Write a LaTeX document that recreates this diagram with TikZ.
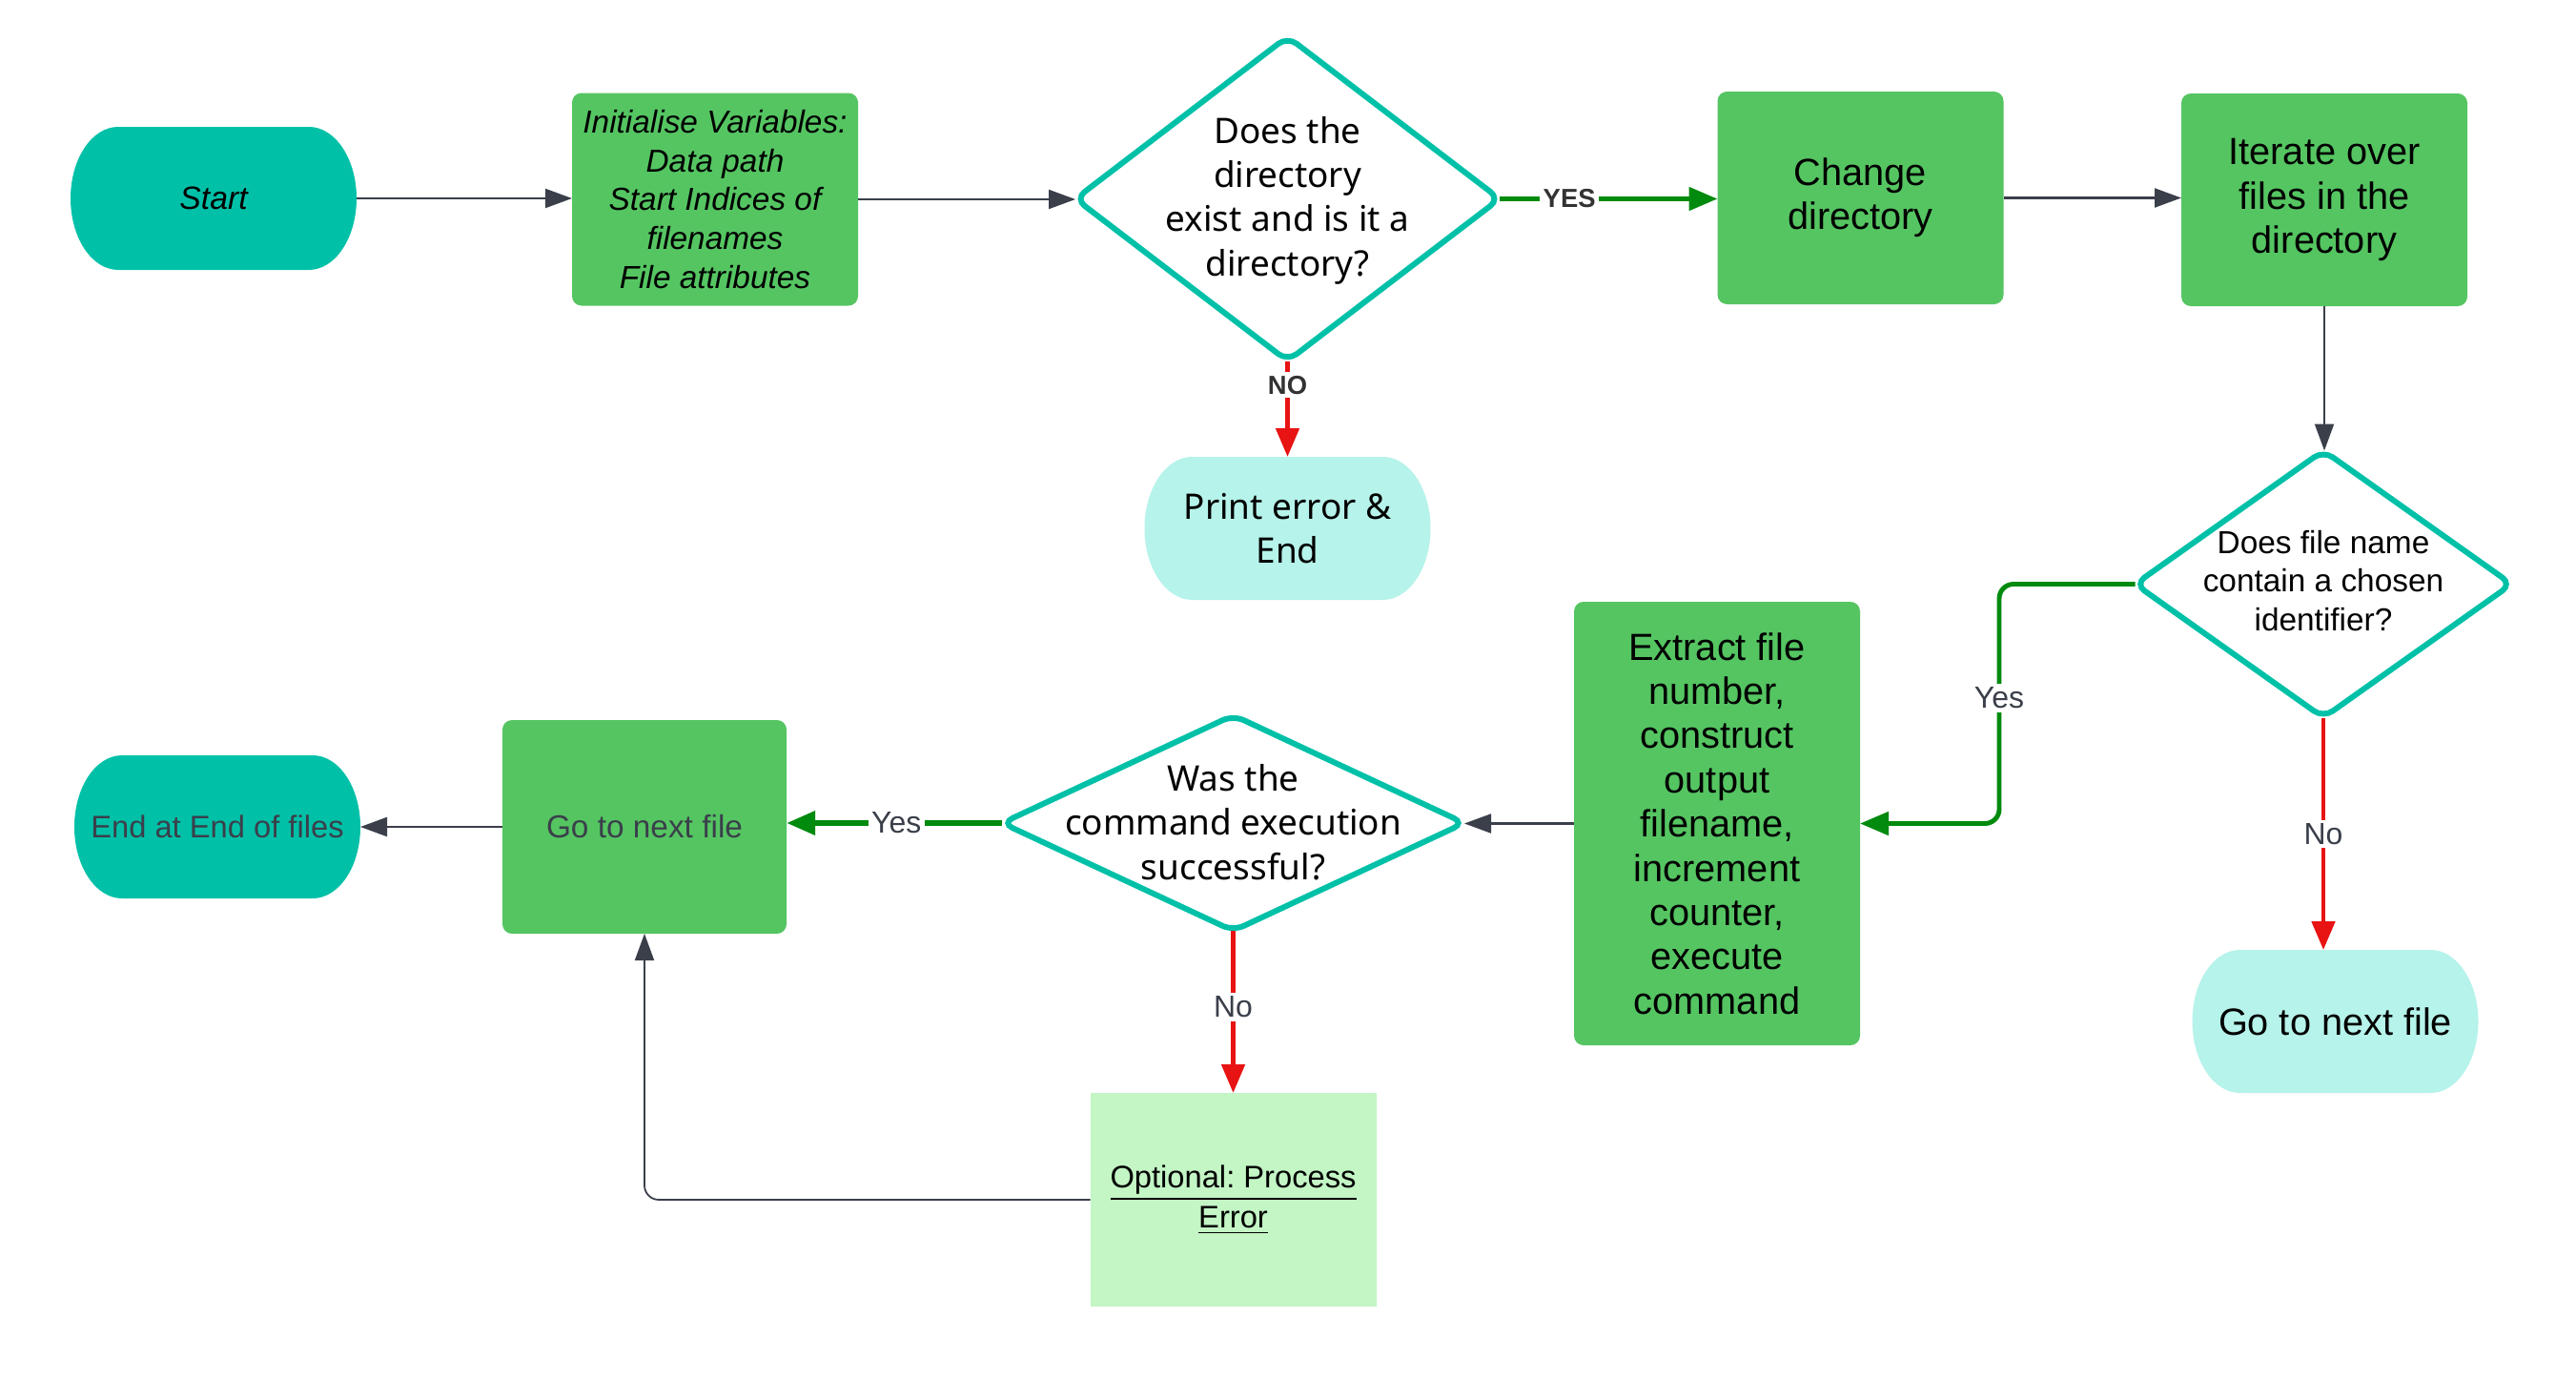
\documentclass[tikz,border=0pt]{standalone}
\usepackage{fontspec}
\setmainfont{Liberation Sans}
\newfontfamily\rob{Noto Sans}
\usetikzlibrary{shapes.geometric,arrows.meta,backgrounds,calc}
\frenchspacing
\definecolor{teal1}{HTML}{00C1A8}
\definecolor{grn}{HTML}{55C562}
\definecolor{lteal}{HTML}{B6F3EA}
\definecolor{lgrn}{HTML}{C3F5C5}
\definecolor{ygrn}{HTML}{008A0E}
\definecolor{nred}{HTML}{E81313}
\definecolor{dgray}{HTML}{3A3F4A}
\newcommand\termbg[2]{%
  \fill[#2] ([xshift=0.5cm]#1.north west) -- ([xshift=-0.5cm]#1.north east)
    arc[start angle=90,end angle=-90,x radius=0.5cm,y radius=0.75cm]
    -- ([xshift=0.5cm]#1.south west)
    arc[start angle=270,end angle=90,x radius=0.5cm,y radius=0.75cm] -- cycle;}
\tikzset{
  term/.style={rectangle,inner sep=0pt,outer sep=0pt,minimum width=3cm,minimum height=1.5cm,align=center},
  gbox/.style={rectangle,fill=grn,rounded corners=0.1cm,inner sep=0pt,outer sep=0pt,minimum width=3cm,align=center},
  dia/.style={diamond,draw=teal1,line width=1.7pt,rounded corners=0.12cm,fill=white,inner sep=0pt,outer sep=0pt},
  arial/.style={font=\fontsize{11.3}{13.2}\selectfont},
  arialsm/.style={font=\fontsize{9.5}{11.5}\selectfont},
  robo/.style={font=\rob\fontsize{10.5}{13.2}\selectfont,align=center},
  darr/.style={draw=dgray,line width=0.6pt,-{Triangle[length=0.28cm,width=0.2cm]}},
  garr/.style={draw=ygrn,line width=1.4pt,-{Triangle[length=0.3cm,width=0.24cm]}},
  rarr/.style={draw=nred,line width=1.4pt,-{Triangle[length=0.3cm,width=0.24cm]}},
  lab/.style={fill=white,text=dgray,inner sep=1pt,font=\fontsize{9.1}{11}\selectfont},
  blab/.style={fill=white,text=black!80,inner sep=1pt,font=\bfseries\fontsize{7.8}{9}\selectfont},
}
\begin{document}
\begin{tikzpicture}
\useasboundingbox (0,0) rectangle (27.02,-14.46);

% row 1
\node[term,font=\itshape\fontsize{9.6}{11.5}\selectfont] (start) at (2.24,-2.08) {Start};
\node[gbox,minimum height=2.23cm,font=\itshape\fontsize{9.5}{11.6}\selectfont] (init) at (7.50,-2.09)
  {Initialise Variables:\\Data path\\Start Indices of\\filenames\\File attributes};
\node[dia,minimum width=4.45cm,minimum height=3.40cm] (d1) at (13.505,-2.085) {};
\node[robo] (d1t) at (13.505,-2.10) {Does the\\directory\\exist and is it a\\directory?};
\node[gbox,minimum height=2.23cm,arial] (change) at (19.515,-2.075) {Change\\directory};
\node[gbox,minimum height=2.23cm,arial] (iter) at (24.38,-2.095) {Iterate over\\files in the\\directory};
\node[term,robo] (print) at (13.505,-5.54) {Print error \&\\End};

% right column
\node[dia,minimum width=3.95cm,minimum height=2.80cm] (d2) at (24.37,-6.125) {};
\node[arialsm,align=center] (d2t) at (24.37,-6.09) {Does file name\\contain a chosen\\identifier?};
\node[term,arial] (next2) at (24.495,-10.71) {Go to next file};

% row 2
\node[gbox,minimum height=4.65cm,arial] (extract) at (18.01,-8.635)
  {Extract file\\number,\\construct\\output\\filename,\\increment\\counter,\\execute\\command};
\node[dia,minimum width=4.85cm,minimum height=2.26cm] (d3) at (12.935,-8.63) {};
\node[robo] (d3t) at (12.935,-8.62) {Was the\\command execution\\successful?};
\node[gbox,minimum width=2.98cm,minimum height=2.24cm,text=dgray,font=\fontsize{9.5}{11.5}\selectfont] (next1) at (6.76,-8.67) {Go to next file};
\node[term,text=dgray,font=\fontsize{9.3}{11.5}\selectfont] (end) at (2.28,-8.67) {End at End of files};
\node[rectangle,fill=lgrn,inner sep=0pt,outer sep=0pt,minimum width=3cm,minimum height=2.24cm,align=center,font=\fontsize{9.3}{11.9}\selectfont] (opt) at (12.935,-12.58)
  {\underline{Optional: Process}\\\underline{Error}};

\begin{scope}[on background layer]
  \fill[white] (0,0) rectangle (27.02,-14.46);
  \termbg{start}{teal1}
  \termbg{print}{lteal}
  \termbg{next2}{lteal}
  \termbg{end}{teal1}
\end{scope}

% connectors
\draw[darr] (start.east) -- (start.east -| init.west);
\draw[darr] (init.east) -- (init.east -| d1.west);
\draw[garr] (d1.east) -- node[pos=0.32,blab] (yes1) {YES} (d1.east -| change.west);
\draw[darr] (change.east) -- (change.east -| iter.west);
\draw[darr] (iter.south) -- (iter.south |- d2.north);
\draw[rarr] (d1.south) -- node[pos=0.25,blab] (no1) {NO} (d1.south |- print.north);

\coordinate (yx) at (20.97,-6.125);
\draw[garr,rounded corners=0.15cm] (d2.west) -- (yx) -- (yx |- extract.east) -- (extract.east);
\node[lab] (yes2) at (20.97,-7.32) {Yes};
\draw[rarr] (d2.south) -- node[midway,lab] (no2) {No} (d2.south |- next2.north);

\draw[darr] (extract.west) -- (extract.west -| d3.east);
\draw[garr,line width=1.8pt] (d3.west) -- node[pos=0.49,lab] (yes3) {Yes} (d3.west -| next1.east);
\draw[rarr] (d3.south) -- node[pos=0.47,lab] (no3) {No} (d3.south |- opt.north);
\draw[darr] (next1.west) -- (next1.west -| end.east);
\draw[darr,line width=0.5pt,rounded corners=0.15cm] (opt.west) -| (next1.south);
\end{tikzpicture}
\end{document}
